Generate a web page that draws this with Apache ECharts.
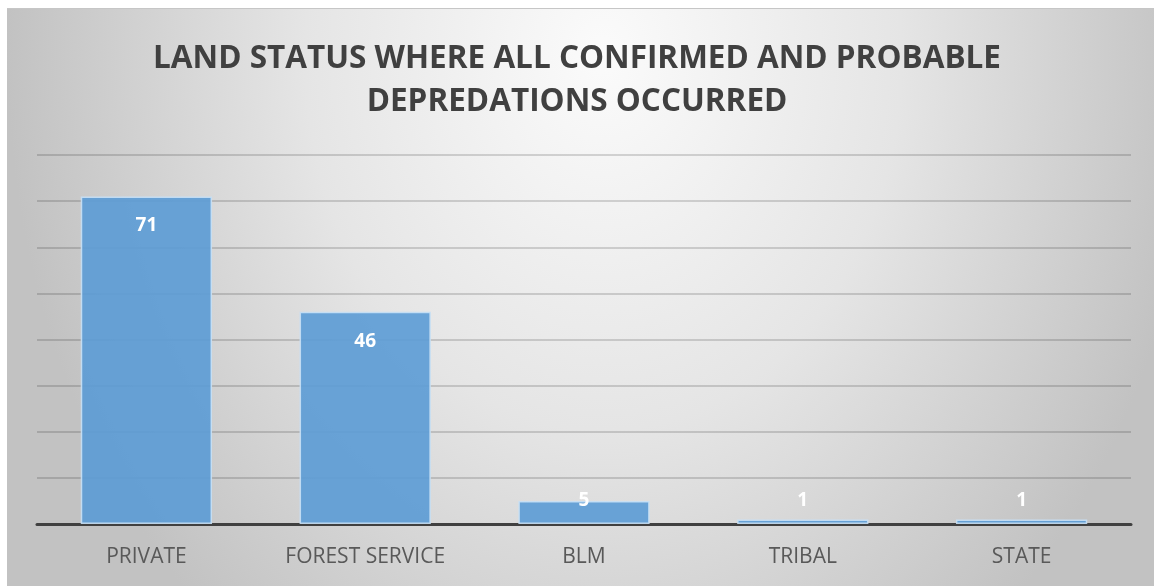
<!DOCTYPE html>
<html>
<head>
<meta charset="utf-8">
<script src="https://cdn.jsdelivr.net/npm/echarts@6/dist/echarts.min.js"></script>
<style>
  html, body { margin: 0; padding: 0; background: #ffffff; }
  #bg { position: absolute; left: 7px; top: 8px; width: 1147px; height: 578px;
        background: radial-gradient(ellipse 52% 130% at 52% 8%, #fbfbfb 0%, #e5e5e5 50%, #c2c2c2 100%);
        border-top: 1px solid #c6c6c6; box-sizing: border-box; }
  #chart { position: absolute; left: 0; top: 0; width: 1154px; height: 586px; }
</style>
</head>
<body>
<div id="bg"></div>
<div id="chart"></div>
<script>
const titleText = 'LAND STATUS WHERE ALL CONFIRMED AND PROBABLE\nDEPREDATIONS OCCURRED';
const categories = ['PRIVATE', 'FOREST SERVICE', 'BLM', 'TRIBAL', 'STATE'];
const values = [71, 46, 5, 1, 1];
const yMin = 0, yMax = 80, yStep = 10;
const smallThreshold = 10;

const FONT = "'Open Sans', 'Noto Sans', sans-serif";

const chart = echarts.init(document.getElementById('chart'), null, { renderer: 'canvas' });

const seriesData = values.map(v => {
  if (v < smallThreshold) {
    return { value: v, label: { position: 'insideBottom', distance: 14 } };
  }
  return { value: v };
});

chart.setOption({
  backgroundColor: 'transparent',
  animation: false,
  title: {
    text: titleText,
    left: 'center',
    top: 33,
    textStyle: {
      fontFamily: FONT,
      fontSize: 31.5,
      fontWeight: 'bold',
      color: '#404040',
      lineHeight: 43
    }
  },
  grid: { left: 37, right: 23, top: 155, bottom: 62, containLabel: false },
  xAxis: {
    type: 'category',
    data: categories,
    axisLine: { show: true, lineStyle: { color: '#404040', width: 3 } },
    axisTick: { show: false },
    axisLabel: { fontFamily: FONT, fontSize: 21, color: '#595959', margin: 23 },
    splitLine: { show: false }
  },
  yAxis: {
    type: 'value',
    min: yMin, max: yMax, interval: yStep,
    axisLine: { show: false },
    axisTick: { show: false },
    axisLabel: { show: false },
    splitLine: { show: true, lineStyle: { color: 'rgba(0,0,0,0.2)', width: 1.5 } }
  },
  series: [{
    type: 'bar',
    data: seriesData,
    barWidth: '60%',
    itemStyle: {
      color: 'rgba(91,155,213,0.9)',
      borderColor: 'rgba(200,224,245,0.9)',
      borderWidth: 1.5
    },
    label: {
      show: true,
      position: 'insideTop',
      distance: 20,
      fontFamily: FONT,
      fontSize: 19,
      fontWeight: 'bold',
      color: '#ffffff'
    }
  }]
});
</script>
</body>
</html>
